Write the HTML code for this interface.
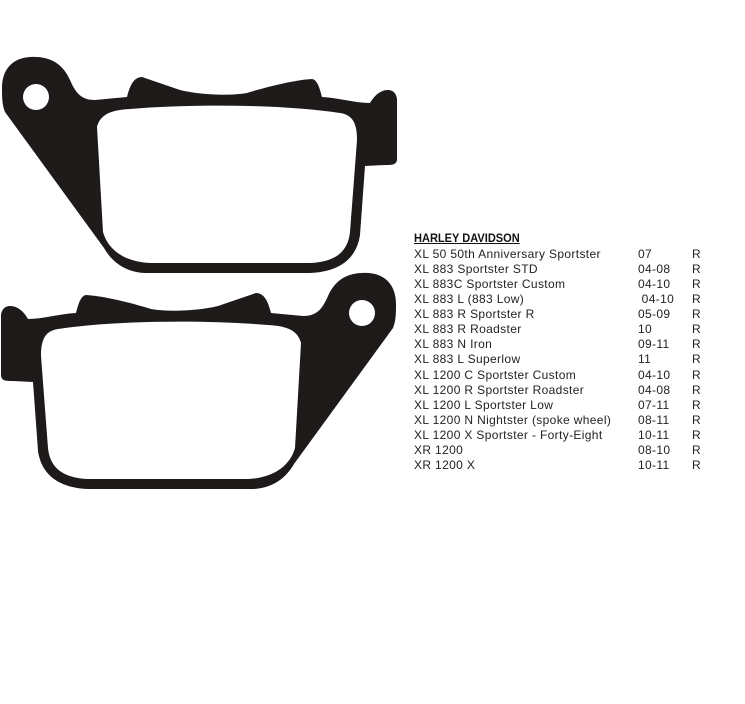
<!DOCTYPE html>
<html><head><style>
html,body{margin:0;padding:0;background:#fff;width:745px;height:704px;overflow:hidden}
.t{position:absolute;font-family:"Liberation Sans",Arial,sans-serif;font-size:12px;color:#222;line-height:15.07px;letter-spacing:0.35px}
.h{position:absolute;left:414px;top:231px;font-family:"Liberation Sans",Arial,sans-serif;font-weight:bold;font-size:12px;text-decoration:underline;color:#111;transform:scaleX(0.92);transform-origin:left}
</style></head><body>
<svg width="745" height="704" style="position:absolute;left:0;top:0">
<defs>
<g id="pad">
<path fill-rule="evenodd" fill="#1e1a1a" d="
M2,88 C2,70 12,58 30,57 C48,56 62,62 70,80 C76,94 82,100 95,100 L127,97 C130,85 134,77 142,77 L180,90 C200,95 230,96 247,93 C270,86 295,80 312,79 C318,80 320,90 322,97 C340,98 355,103 370,103 C374,96 380,90 388,90 C394,90 397,95 397,100 L397,160 C396,165 392,165 385,165 L365,166 L360,235 C356,262 335,272 310,273 L145,273 C125,272 112,262 104,248 L5,112 C2,105 2,96 2,88 Z
M49,97 A13,13 0 1,0 23,97 A13,13 0 1,0 49,97 Z
M97,127 C100,115 110,110 130,109 C190,104 280,104 340,113 C352,115 357,122 357,140 L350,232 C348,252 335,262 310,263 L150,263 C125,262 108,250 103,232 Z"/>
</g>
</defs>
<use href="#pad"/>
<use href="#pad" transform="translate(398,216) scale(-1,1)"/>
</svg>
<div class="h">HARLEY DAVIDSON</div>
<div class="t" style="left:414px;top:247px">XL 50 50th Anniversary Sportster<br>XL 883 Sportster STD<br>XL 883C Sportster Custom<br>XL 883 L (883 Low)<br>XL 883 R Sportster R<br>XL 883 R Roadster<br>XL 883 N Iron<br>XL 883 L Superlow<br>XL 1200 C Sportster Custom<br>XL 1200 R Sportster Roadster<br>XL 1200 L Sportster Low<br>XL 1200 N Nightster (spoke wheel)<br>XL 1200 X Sportster - Forty-Eight<br>XR 1200<br>XR 1200 X</div>
<div class="t" style="left:638px;top:247px">07<br>04-08<br>04-10<br>&nbsp;04-10<br>05-09<br>10<br>09-11<br>11<br>04-10<br>04-08<br>07-11<br>08-11<br>10-11<br>08-10<br>10-11</div>
<div class="t" style="left:692px;top:247px">R<br>R<br>R<br>R<br>R<br>R<br>R<br>R<br>R<br>R<br>R<br>R<br>R<br>R<br>R</div>
</body></html>
